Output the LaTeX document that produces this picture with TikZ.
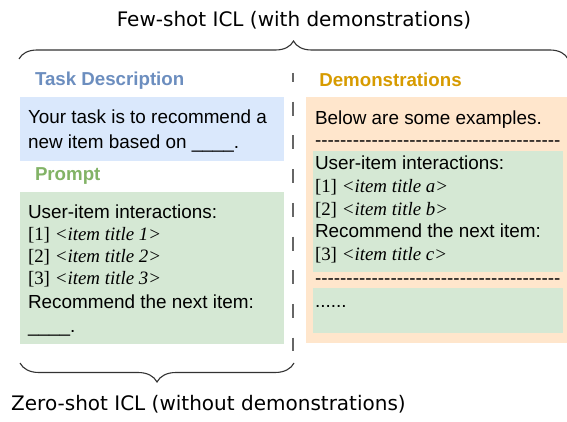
\documentclass[tikz,border=0pt]{standalone}
\usepackage{fontspec}
\setmainfont{Liberation Sans}[Ligatures=TeXOff]
\newfontfamily\serifrm{Liberation Serif}
\newfontfamily\comicfont{DejaVu Sans}
\usetikzlibrary{decorations.pathreplacing}
\definecolor{bluefill}{HTML}{DAE8FC}
\definecolor{greenfill}{HTML}{D5E8D4}
\definecolor{orangefill}{HTML}{FFE6CC}
\definecolor{bluetext}{HTML}{6C8EBF}
\definecolor{greentext}{HTML}{82B366}
\definecolor{orangetext}{HTML}{D79B00}
\definecolor{dashgray}{HTML}{666666}
\definecolor{bracegray}{HTML}{333333}
\newcommand{\itemtitle}[2]{{\serifrm [#1] \itshape <item title #2>}}
\begin{document}
\begin{tikzpicture}[x=1pt,y=-1pt,
  box/.style={draw=none, inner sep=0pt, outer sep=0pt, anchor=north west},
  txt/.style={inner sep=0pt, outer sep=0pt, anchor=base west, font=\fontsize{18.9}{22}\selectfont},
  head/.style={txt, font=\fontsize{18.7}{22}\selectfont\bfseries},
  caption/.style={inner sep=0pt, outer sep=0pt, anchor=base, font=\comicfont\fontsize{20}{22}\selectfont},
  bracestyle/.style={draw=bracegray, line width=1.1pt, decorate},
  sep/.style={draw=dashgray, line width=1.8pt, dash pattern=on 14pt off 19.7pt, dash phase=5pt}]
\useasboundingbox (0,0) rectangle (567,422);
\fill[white] (0,0) rectangle (567,422);

% boxes
\node[box, fill=bluefill, minimum width=264pt, minimum height=64pt] (bluebox) at (20,96.7) {};
\node[box, fill=greenfill, minimum width=264pt, minimum height=152pt] (promptbox) at (20,192) {};
\node[box, fill=orangefill, minimum width=262pt, minimum height=246.3pt] (demobox) at (306,97) {};
\node[box, fill=greenfill, minimum width=250pt, minimum height=121pt] (ex1) at (312.7,150.7) {};
\node[box, fill=greenfill, minimum width=250pt, minimum height=45pt] (ex2) at (312.7,288) {};

% headings
\node[head, text=bluetext] (taskhead) at (35,86) {Task Description};
\node[head, text=greentext] (prompthead) at (35,181) {Prompt};
\node[head, text=orangetext] (demohead) at (319.3,86.7) {Demonstrations};

% task description text
\node[txt] (t1) at (28,124) {Your task is to recommend a};
\node[txt] (t2) at (28,149) {new item based on \_\_\_\_.};

% prompt text
\node[txt] (p1) at (28,218.3) {User-item interactions:};
\node[txt] (p2) at (28,240.7) {\itemtitle{1}{1}};
\node[txt] (p3) at (28,262.3) {\itemtitle{2}{2}};
\node[txt] (p4) at (28,284.3) {\itemtitle{3}{3}};
\node[txt] (p5) at (28,308.7) {Recommend the next item:};
\node[txt] (p6) at (28,332) {\_\_\_\_.};

% demonstrations text
\node[txt] (d1) at (315,124.3) {Below are some examples.};
\node[txt] (dl1) at (315,146.5) {---------------------------------------};
\node[txt] (d2) at (315,170) {User-item interactions:};
\node[txt] (d3) at (315,192.7) {\itemtitle{1}{a}};
\node[txt] (d4) at (315,215) {\itemtitle{2}{b}};
\node[txt] (d5) at (315,237.7) {Recommend the next item:};
\node[txt] (d6) at (315,260) {\itemtitle{3}{c}};
\node[txt] (dl2) at (315,284) {---------------------------------------};
\node[txt] (d7) at (315,307) {......};

% separator
\coordinate (septop) at (293.3,73);
\coordinate (sepbot) at (293.3,351);
\draw[sep] (septop) -- (sepbot);

% braces
\coordinate (tbl) at (19,59);
\coordinate (tbr) at (568,59);
\draw[bracestyle, decoration={brace, amplitude=18pt}] (tbl) -- (tbr);
\coordinate (bbl) at (20,363);
\coordinate (bbr) at (294,363);
\draw[bracestyle, decoration={brace, amplitude=19pt}] (bbr) -- (bbl);

% captions
\node[caption] (fewshot) at (294,27) {Few-shot ICL (with demonstrations)};
\node[caption] (zeroshot) at (208.5,410) {Zero-shot ICL (without demonstrations)};
\end{tikzpicture}
\end{document}
